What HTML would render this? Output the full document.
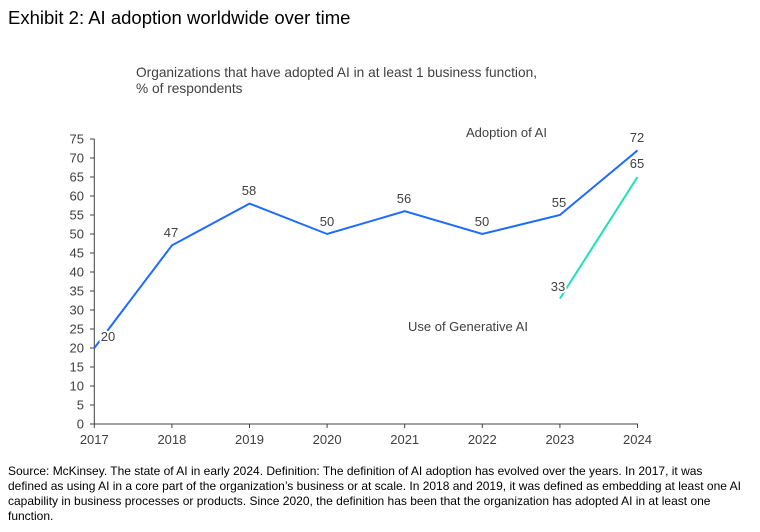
<!DOCTYPE html>
<html><head><style>
body{margin:0;background:#fff;width:760px;height:532px;overflow:hidden;font-family:"Liberation Sans",Arial,sans-serif}
</style></head><body>
<svg width="760" height="532" xmlns="http://www.w3.org/2000/svg" style="position:absolute;left:0;top:0">
<text x="8" y="24" font-size="18.5" fill="#000">Exhibit 2: AI adoption worldwide over time</text>
<text x="136" y="77" font-size="13.7" fill="#404040">Organizations that have adopted AI in at least 1 business function,</text>
<text x="136" y="93" font-size="13.7" fill="#404040">% of respondents</text>
<g stroke="#404040" stroke-width="1">
<line x1="94.3" y1="139" x2="94.3" y2="424"/>
<line x1="94.3" y1="424" x2="638" y2="424"/>
</g>
<g id="yt" font-size="13" fill="#404040" text-anchor="end"></g>
<g id="xt" font-size="13" fill="#404040" text-anchor="middle"></g>
<g id="tk" stroke="#404040" stroke-width="1"></g>
<polyline fill="none" stroke="#1f6bff" stroke-width="2" points="94.3,348 171.9,245.4 249.5,203.6 327.1,234 404.7,211.2 482.3,234 559.9,215 637.5,150.4"/>
<polyline fill="none" stroke="#1fe0b8" stroke-width="2" points="559.9,298.6 637.5,177"/>
<g font-size="13" fill="#404040" text-anchor="middle" stroke="#fff" stroke-width="4" paint-order="stroke" stroke-linejoin="round">
<text x="108" y="341">20</text>
<text x="171" y="237">47</text>
<text x="249" y="195">58</text>
<text x="327" y="226">50</text>
<text x="404" y="203">56</text>
<text x="482" y="226">50</text>
<text x="559" y="207">55</text>
<text x="637" y="142">72</text>
<text x="637" y="168">65</text>
<text x="558" y="291">33</text>
</g>
<text x="466" y="137" font-size="13" fill="#404040">Adoption of AI</text>
<text x="408" y="331" font-size="13" fill="#404040">Use of Generative AI</text>
<g font-size="12" fill="#000">
<text x="8" y="475">Source: McKinsey. The state of AI in early 2024.  Definition: The definition of AI adoption has evolved over the years. In 2017, it was</text>
<text x="8" y="490">defined as using AI in a core part of the organization’s business or at scale. In 2018 and 2019, it was defined as embedding at least one AI</text>
<text x="8" y="505">capability in business processes or products. Since 2020, the definition has been that the organization has adopted AI in at least one</text>
<text x="8" y="520">function.</text>
</g>
</svg>
<script>
var ns="http://www.w3.org/2000/svg";
var yt=document.getElementById("yt"),xt=document.getElementById("xt"),tk=document.getElementById("tk");
for(var v=0;v<=75;v+=5){var y=424-v*3.8;
var t=document.createElementNS(ns,"text");t.setAttribute("x",84);t.setAttribute("y",y+4.5);t.textContent=v;yt.appendChild(t);
var l=document.createElementNS(ns,"line");l.setAttribute("x1",90);l.setAttribute("x2",94.3);l.setAttribute("y1",y);l.setAttribute("y2",y);tk.appendChild(l);}
for(var i=0;i<8;i++){var x=94.3+i*77.6;
var t=document.createElementNS(ns,"text");t.setAttribute("x",x);t.setAttribute("y",444);t.textContent=2017+i;xt.appendChild(t);
var l=document.createElementNS(ns,"line");l.setAttribute("x1",x);l.setAttribute("x2",x);l.setAttribute("y1",424);l.setAttribute("y2",428);tk.appendChild(l);}
</script>
</body></html>
